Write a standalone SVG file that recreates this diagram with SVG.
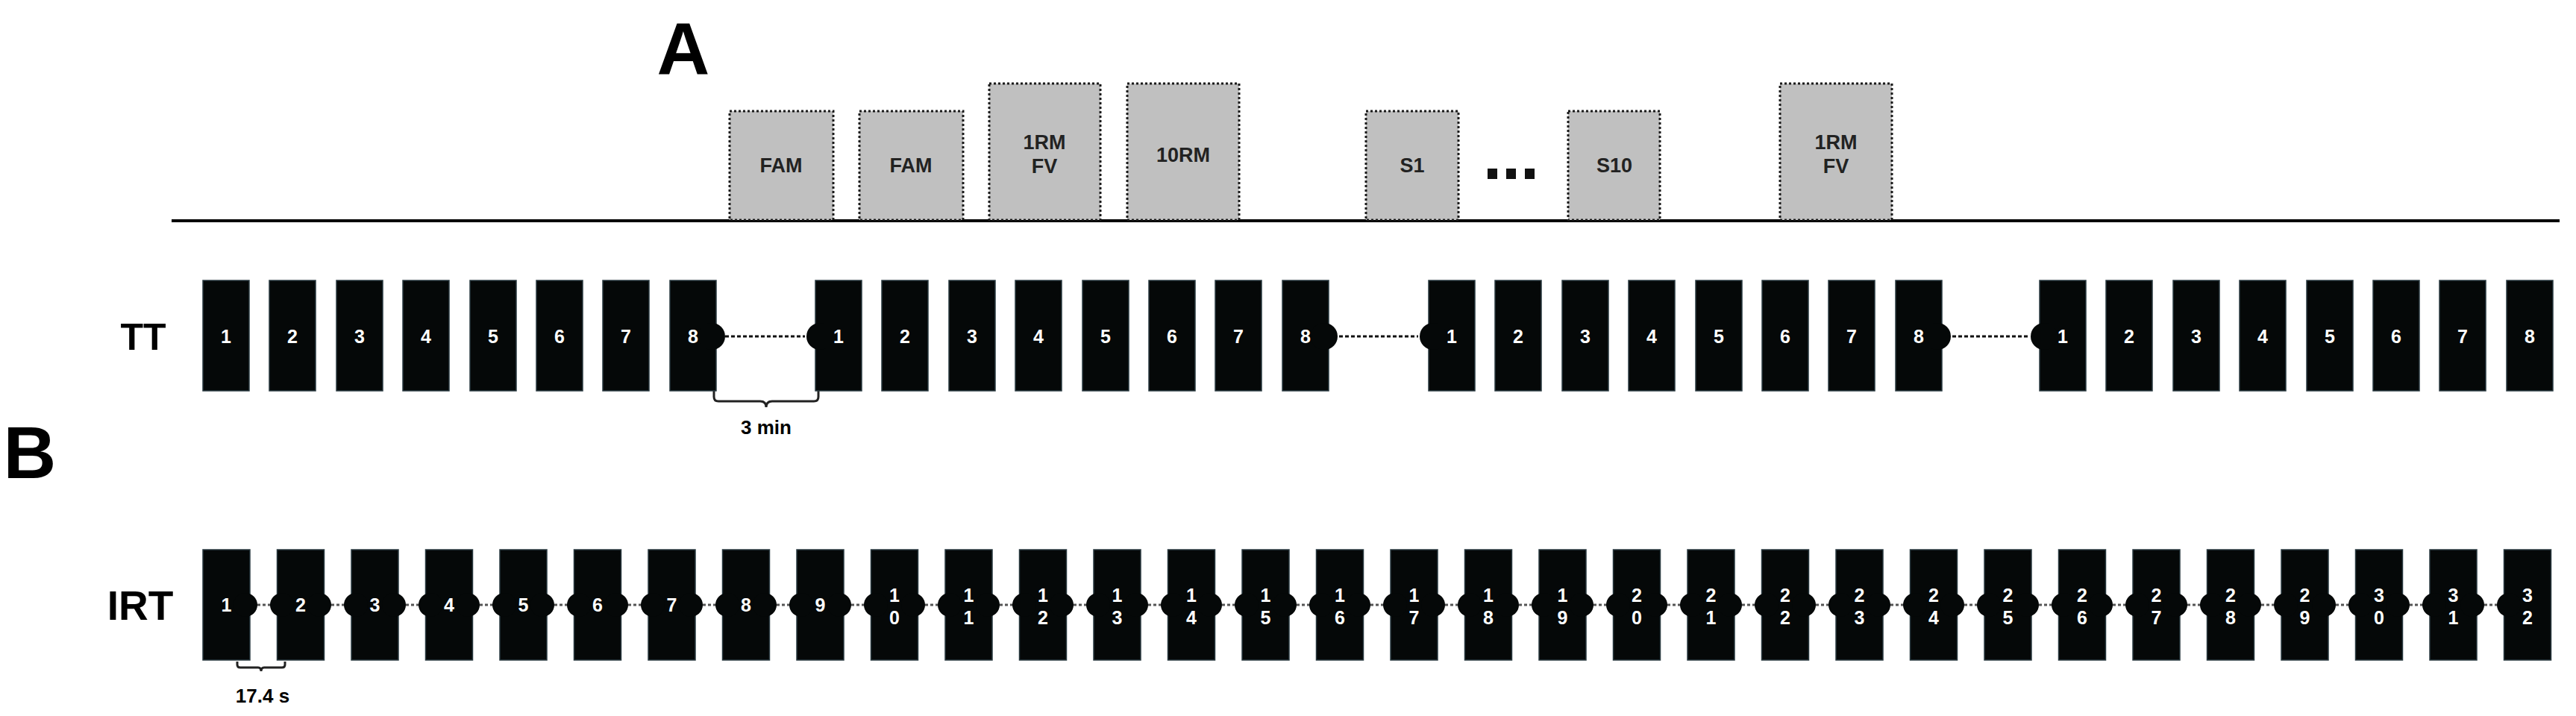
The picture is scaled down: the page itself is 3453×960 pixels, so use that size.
<svg xmlns="http://www.w3.org/2000/svg" width="3453" height="960" viewBox="0 0 3453 960">
<style>
.t{font-family:"Liberation Sans Narrow","Liberation Sans",Arial,sans-serif;font-weight:bold}
.blk{fill:#050808;stroke:#2a3a40;stroke-width:1.5}
.bump{fill:#050808}
.n{fill:#ffffff;font-size:25px;text-anchor:middle}
.box{fill:#c0c0c0;stroke:#1a1a1a;stroke-width:3;stroke-dasharray:3 3}
.bl{font-size:27px;fill:#222;text-anchor:middle}
.conn{stroke:#111;stroke-width:3;stroke-dasharray:5 3;fill:none}
.conn2{stroke:#555;stroke-width:3;stroke-dasharray:4 3;fill:none}
.brace{stroke:#222;stroke-width:3;fill:none}
</style>
<rect width="3453" height="960" fill="#fff"/>
<text class="t" x="916" y="99" font-size="98" text-anchor="middle">A</text>
<text class="t" x="40" y="641" font-size="98" text-anchor="middle">B</text>
<line x1="230" y1="296" x2="3431" y2="296" stroke="#000" stroke-width="4"/>
<g id="boxes">
<g id="fam1"><rect class="box" x="978" y="149" width="139" height="146"/><text class="t bl" x="1047" y="231">FAM</text></g>
<g id="fam2"><rect class="box" x="1152" y="149" width="139" height="146"/><text class="t bl" x="1221" y="231">FAM</text></g>
<g id="rm1"><rect class="box" x="1326" y="112" width="149" height="183"/><text class="t bl" x="1400" y="200">1RM</text><text class="t bl" x="1400" y="232">FV</text></g>
<g id="rm10"><rect class="box" x="1511" y="112" width="150" height="183"/><text class="t bl" x="1586" y="217">10RM</text></g>
<g id="s1"><rect class="box" x="1831" y="149" width="124" height="146"/><text class="t bl" x="1893" y="231">S1</text></g>
<g id="dots"><rect x="1994" y="226" width="13" height="14" fill="#111"/><rect x="2019" y="226" width="13" height="14" fill="#111"/><rect x="2044" y="226" width="13" height="14" fill="#111"/></g>
<g id="s10"><rect class="box" x="2102" y="149" width="123" height="146"/><text class="t bl" x="2164" y="231">S10</text></g>
<g id="rm1b"><rect class="box" x="2386" y="112" width="150" height="183"/><text class="t bl" x="2461" y="200">1RM</text><text class="t bl" x="2461" y="232">FV</text></g>
</g>
<text class="t" x="192" y="469" font-size="50" text-anchor="middle">TT</text>
<text class="t" x="188" y="831" font-size="55" text-anchor="middle">IRT</text>
<g id="connectors">
<line class="conn" x1="972" y1="451" x2="1079" y2="451"/>
<line class="conn" x1="1795" y1="451" x2="1901" y2="451"/>
<line class="conn" x1="2617" y1="451" x2="2720" y2="451"/>
<path class="brace" d="M957 524 v8 q0 6 6 6 h56 q8 0 8 8 q0 -8 8 -8 h56 q6 0 6 -6 v-8"/>
<path class="brace" d="M318 887 v4 q0 4 4 4 h24 q4 0 4 5 q0 -5 4 -5 h24 q4 0 4 -4 v-4"/>
<line class="conn2" x1="345" y1="811" x2="372" y2="811"/>
<line class="conn2" x1="444" y1="811" x2="471" y2="811"/>
<line class="conn2" x1="544" y1="811" x2="570" y2="811"/>
<line class="conn2" x1="643" y1="811" x2="670" y2="811"/>
<line class="conn2" x1="743" y1="811" x2="769" y2="811"/>
<line class="conn2" x1="842" y1="811" x2="869" y2="811"/>
<line class="conn2" x1="942" y1="811" x2="968" y2="811"/>
<line class="conn2" x1="1041" y1="811" x2="1068" y2="811"/>
<line class="conn2" x1="1141" y1="811" x2="1167" y2="811"/>
<line class="conn2" x1="1240" y1="811" x2="1267" y2="811"/>
<line class="conn2" x1="1340" y1="811" x2="1366" y2="811"/>
<line class="conn2" x1="1439" y1="811" x2="1466" y2="811"/>
<line class="conn2" x1="1539" y1="811" x2="1565" y2="811"/>
<line class="conn2" x1="1638" y1="811" x2="1665" y2="811"/>
<line class="conn2" x1="1738" y1="811" x2="1764" y2="811"/>
<line class="conn2" x1="1837" y1="811" x2="1864" y2="811"/>
<line class="conn2" x1="1937" y1="811" x2="1963" y2="811"/>
<line class="conn2" x1="2036" y1="811" x2="2063" y2="811"/>
<line class="conn2" x1="2136" y1="811" x2="2162" y2="811"/>
<line class="conn2" x1="2235" y1="811" x2="2262" y2="811"/>
<line class="conn2" x1="2335" y1="811" x2="2361" y2="811"/>
<line class="conn2" x1="2434" y1="811" x2="2461" y2="811"/>
<line class="conn2" x1="2534" y1="811" x2="2560" y2="811"/>
<line class="conn2" x1="2633" y1="811" x2="2660" y2="811"/>
<line class="conn2" x1="2733" y1="811" x2="2759" y2="811"/>
<line class="conn2" x1="2832" y1="811" x2="2859" y2="811"/>
<line class="conn2" x1="2932" y1="811" x2="2958" y2="811"/>
<line class="conn2" x1="3031" y1="811" x2="3058" y2="811"/>
<line class="conn2" x1="3131" y1="811" x2="3157" y2="811"/>
<line class="conn2" x1="3230" y1="811" x2="3257" y2="811"/>
<line class="conn2" x1="3330" y1="811" x2="3356" y2="811"/>
</g>
<text class="t" x="1027" y="582" font-size="26" text-anchor="middle">3 min</text>
<text class="t" x="352" y="942" font-size="26" text-anchor="middle">17.4 s</text>
<g id="tt">
<g id="tt1-1"><rect class="blk" x="272" y="376" width="62" height="148"/><text class="t n" x="303" y="460">1</text></g>
<g id="tt1-2"><rect class="blk" x="361" y="376" width="62" height="148"/><text class="t n" x="392" y="460">2</text></g>
<g id="tt1-3"><rect class="blk" x="451" y="376" width="62" height="148"/><text class="t n" x="482" y="460">3</text></g>
<g id="tt1-4"><rect class="blk" x="540" y="376" width="62" height="148"/><text class="t n" x="571" y="460">4</text></g>
<g id="tt1-5"><rect class="blk" x="630" y="376" width="62" height="148"/><text class="t n" x="661" y="460">5</text></g>
<g id="tt1-6"><rect class="blk" x="719" y="376" width="62" height="148"/><text class="t n" x="750" y="460">6</text></g>
<g id="tt1-7"><rect class="blk" x="808" y="376" width="62" height="148"/><text class="t n" x="839" y="460">7</text></g>
<g id="tt1-8"><rect class="blk" x="898" y="376" width="62" height="148"/><circle class="bump" cx="954" cy="451" r="18"/><text class="t n" x="929" y="460">8</text></g>
<g id="tt2-1"><rect class="blk" x="1093" y="376" width="62" height="148"/><circle class="bump" cx="1099" cy="451" r="18"/><text class="t n" x="1124" y="460">1</text></g>
<g id="tt2-2"><rect class="blk" x="1182" y="376" width="62" height="148"/><text class="t n" x="1213" y="460">2</text></g>
<g id="tt2-3"><rect class="blk" x="1272" y="376" width="62" height="148"/><text class="t n" x="1303" y="460">3</text></g>
<g id="tt2-4"><rect class="blk" x="1361" y="376" width="62" height="148"/><text class="t n" x="1392" y="460">4</text></g>
<g id="tt2-5"><rect class="blk" x="1451" y="376" width="62" height="148"/><text class="t n" x="1482" y="460">5</text></g>
<g id="tt2-6"><rect class="blk" x="1540" y="376" width="62" height="148"/><text class="t n" x="1571" y="460">6</text></g>
<g id="tt2-7"><rect class="blk" x="1629" y="376" width="62" height="148"/><text class="t n" x="1660" y="460">7</text></g>
<g id="tt2-8"><rect class="blk" x="1719" y="376" width="62" height="148"/><circle class="bump" cx="1775" cy="451" r="18"/><text class="t n" x="1750" y="460">8</text></g>
<g id="tt3-1"><rect class="blk" x="1915" y="376" width="62" height="148"/><circle class="bump" cx="1921" cy="451" r="18"/><text class="t n" x="1946" y="460">1</text></g>
<g id="tt3-2"><rect class="blk" x="2004" y="376" width="62" height="148"/><text class="t n" x="2035" y="460">2</text></g>
<g id="tt3-3"><rect class="blk" x="2094" y="376" width="62" height="148"/><text class="t n" x="2125" y="460">3</text></g>
<g id="tt3-4"><rect class="blk" x="2183" y="376" width="62" height="148"/><text class="t n" x="2214" y="460">4</text></g>
<g id="tt3-5"><rect class="blk" x="2273" y="376" width="62" height="148"/><text class="t n" x="2304" y="460">5</text></g>
<g id="tt3-6"><rect class="blk" x="2362" y="376" width="62" height="148"/><text class="t n" x="2393" y="460">6</text></g>
<g id="tt3-7"><rect class="blk" x="2451" y="376" width="62" height="148"/><text class="t n" x="2482" y="460">7</text></g>
<g id="tt3-8"><rect class="blk" x="2541" y="376" width="62" height="148"/><circle class="bump" cx="2597" cy="451" r="18"/><text class="t n" x="2572" y="460">8</text></g>
<g id="tt4-1"><rect class="blk" x="2734" y="376" width="62" height="148"/><circle class="bump" cx="2740" cy="451" r="18"/><text class="t n" x="2765" y="460">1</text></g>
<g id="tt4-2"><rect class="blk" x="2823" y="376" width="62" height="148"/><text class="t n" x="2854" y="460">2</text></g>
<g id="tt4-3"><rect class="blk" x="2913" y="376" width="62" height="148"/><text class="t n" x="2944" y="460">3</text></g>
<g id="tt4-4"><rect class="blk" x="3002" y="376" width="62" height="148"/><text class="t n" x="3033" y="460">4</text></g>
<g id="tt4-5"><rect class="blk" x="3092" y="376" width="62" height="148"/><text class="t n" x="3123" y="460">5</text></g>
<g id="tt4-6"><rect class="blk" x="3181" y="376" width="62" height="148"/><text class="t n" x="3212" y="460">6</text></g>
<g id="tt4-7"><rect class="blk" x="3270" y="376" width="62" height="148"/><text class="t n" x="3301" y="460">7</text></g>
<g id="tt4-8"><rect class="blk" x="3360" y="376" width="62" height="148"/><text class="t n" x="3391" y="460">8</text></g>
</g>
<g id="irt">
<g id="irt1"><rect class="blk" x="272" y="737" width="63" height="148"/><circle class="bump" cx="329" cy="811" r="16"/><text class="t n" x="303.5" y="820">1</text></g>
<g id="irt2"><rect class="blk" x="371.5" y="737" width="63" height="148"/><circle class="bump" cx="378" cy="811" r="16"/><circle class="bump" cx="428" cy="811" r="16"/><text class="t n" x="403" y="820">2</text></g>
<g id="irt3"><rect class="blk" x="471" y="737" width="63" height="148"/><circle class="bump" cx="477" cy="811" r="16"/><circle class="bump" cx="528" cy="811" r="16"/><text class="t n" x="502.5" y="820">3</text></g>
<g id="irt4"><rect class="blk" x="570.5" y="737" width="63" height="148"/><circle class="bump" cx="577" cy="811" r="16"/><circle class="bump" cx="627" cy="811" r="16"/><text class="t n" x="602" y="820">4</text></g>
<g id="irt5"><rect class="blk" x="670" y="737" width="63" height="148"/><circle class="bump" cx="676" cy="811" r="16"/><circle class="bump" cx="727" cy="811" r="16"/><text class="t n" x="701.5" y="820">5</text></g>
<g id="irt6"><rect class="blk" x="769.5" y="737" width="63" height="148"/><circle class="bump" cx="776" cy="811" r="16"/><circle class="bump" cx="826" cy="811" r="16"/><text class="t n" x="801" y="820">6</text></g>
<g id="irt7"><rect class="blk" x="869" y="737" width="63" height="148"/><circle class="bump" cx="875" cy="811" r="16"/><circle class="bump" cx="926" cy="811" r="16"/><text class="t n" x="900.5" y="820">7</text></g>
<g id="irt8"><rect class="blk" x="968.5" y="737" width="63" height="148"/><circle class="bump" cx="975" cy="811" r="16"/><circle class="bump" cx="1025" cy="811" r="16"/><text class="t n" x="1000" y="820">8</text></g>
<g id="irt9"><rect class="blk" x="1068" y="737" width="63" height="148"/><circle class="bump" cx="1074" cy="811" r="16"/><circle class="bump" cx="1125" cy="811" r="16"/><text class="t n" x="1099.5" y="820">9</text></g>
<g id="irt10"><rect class="blk" x="1167.5" y="737" width="63" height="148"/><circle class="bump" cx="1174" cy="811" r="16"/><circle class="bump" cx="1224" cy="811" r="16"/><text class="t n" x="1199" y="807">1</text><text class="t n" x="1199" y="837">0</text></g>
<g id="irt11"><rect class="blk" x="1267" y="737" width="63" height="148"/><circle class="bump" cx="1273" cy="811" r="16"/><circle class="bump" cx="1324" cy="811" r="16"/><text class="t n" x="1298.5" y="807">1</text><text class="t n" x="1298.5" y="837">1</text></g>
<g id="irt12"><rect class="blk" x="1366.5" y="737" width="63" height="148"/><circle class="bump" cx="1373" cy="811" r="16"/><circle class="bump" cx="1423" cy="811" r="16"/><text class="t n" x="1398" y="807">1</text><text class="t n" x="1398" y="837">2</text></g>
<g id="irt13"><rect class="blk" x="1466" y="737" width="63" height="148"/><circle class="bump" cx="1472" cy="811" r="16"/><circle class="bump" cx="1523" cy="811" r="16"/><text class="t n" x="1497.5" y="807">1</text><text class="t n" x="1497.5" y="837">3</text></g>
<g id="irt14"><rect class="blk" x="1565.5" y="737" width="63" height="148"/><circle class="bump" cx="1572" cy="811" r="16"/><circle class="bump" cx="1622" cy="811" r="16"/><text class="t n" x="1597" y="807">1</text><text class="t n" x="1597" y="837">4</text></g>
<g id="irt15"><rect class="blk" x="1665" y="737" width="63" height="148"/><circle class="bump" cx="1671" cy="811" r="16"/><circle class="bump" cx="1722" cy="811" r="16"/><text class="t n" x="1696.5" y="807">1</text><text class="t n" x="1696.5" y="837">5</text></g>
<g id="irt16"><rect class="blk" x="1764.5" y="737" width="63" height="148"/><circle class="bump" cx="1771" cy="811" r="16"/><circle class="bump" cx="1821" cy="811" r="16"/><text class="t n" x="1796" y="807">1</text><text class="t n" x="1796" y="837">6</text></g>
<g id="irt17"><rect class="blk" x="1864" y="737" width="63" height="148"/><circle class="bump" cx="1870" cy="811" r="16"/><circle class="bump" cx="1921" cy="811" r="16"/><text class="t n" x="1895.5" y="807">1</text><text class="t n" x="1895.5" y="837">7</text></g>
<g id="irt18"><rect class="blk" x="1963.5" y="737" width="63" height="148"/><circle class="bump" cx="1970" cy="811" r="16"/><circle class="bump" cx="2020" cy="811" r="16"/><text class="t n" x="1995" y="807">1</text><text class="t n" x="1995" y="837">8</text></g>
<g id="irt19"><rect class="blk" x="2063" y="737" width="63" height="148"/><circle class="bump" cx="2069" cy="811" r="16"/><circle class="bump" cx="2120" cy="811" r="16"/><text class="t n" x="2094.5" y="807">1</text><text class="t n" x="2094.5" y="837">9</text></g>
<g id="irt20"><rect class="blk" x="2162.5" y="737" width="63" height="148"/><circle class="bump" cx="2169" cy="811" r="16"/><circle class="bump" cx="2219" cy="811" r="16"/><text class="t n" x="2194" y="807">2</text><text class="t n" x="2194" y="837">0</text></g>
<g id="irt21"><rect class="blk" x="2262" y="737" width="63" height="148"/><circle class="bump" cx="2268" cy="811" r="16"/><circle class="bump" cx="2319" cy="811" r="16"/><text class="t n" x="2293.5" y="807">2</text><text class="t n" x="2293.5" y="837">1</text></g>
<g id="irt22"><rect class="blk" x="2361.5" y="737" width="63" height="148"/><circle class="bump" cx="2368" cy="811" r="16"/><circle class="bump" cx="2418" cy="811" r="16"/><text class="t n" x="2393" y="807">2</text><text class="t n" x="2393" y="837">2</text></g>
<g id="irt23"><rect class="blk" x="2461" y="737" width="63" height="148"/><circle class="bump" cx="2467" cy="811" r="16"/><circle class="bump" cx="2518" cy="811" r="16"/><text class="t n" x="2492.5" y="807">2</text><text class="t n" x="2492.5" y="837">3</text></g>
<g id="irt24"><rect class="blk" x="2560.5" y="737" width="63" height="148"/><circle class="bump" cx="2567" cy="811" r="16"/><circle class="bump" cx="2617" cy="811" r="16"/><text class="t n" x="2592" y="807">2</text><text class="t n" x="2592" y="837">4</text></g>
<g id="irt25"><rect class="blk" x="2660" y="737" width="63" height="148"/><circle class="bump" cx="2666" cy="811" r="16"/><circle class="bump" cx="2717" cy="811" r="16"/><text class="t n" x="2691.5" y="807">2</text><text class="t n" x="2691.5" y="837">5</text></g>
<g id="irt26"><rect class="blk" x="2759.5" y="737" width="63" height="148"/><circle class="bump" cx="2766" cy="811" r="16"/><circle class="bump" cx="2816" cy="811" r="16"/><text class="t n" x="2791" y="807">2</text><text class="t n" x="2791" y="837">6</text></g>
<g id="irt27"><rect class="blk" x="2859" y="737" width="63" height="148"/><circle class="bump" cx="2865" cy="811" r="16"/><circle class="bump" cx="2916" cy="811" r="16"/><text class="t n" x="2890.5" y="807">2</text><text class="t n" x="2890.5" y="837">7</text></g>
<g id="irt28"><rect class="blk" x="2958.5" y="737" width="63" height="148"/><circle class="bump" cx="2965" cy="811" r="16"/><circle class="bump" cx="3015" cy="811" r="16"/><text class="t n" x="2990" y="807">2</text><text class="t n" x="2990" y="837">8</text></g>
<g id="irt29"><rect class="blk" x="3058" y="737" width="63" height="148"/><circle class="bump" cx="3064" cy="811" r="16"/><circle class="bump" cx="3115" cy="811" r="16"/><text class="t n" x="3089.5" y="807">2</text><text class="t n" x="3089.5" y="837">9</text></g>
<g id="irt30"><rect class="blk" x="3157.5" y="737" width="63" height="148"/><circle class="bump" cx="3164" cy="811" r="16"/><circle class="bump" cx="3214" cy="811" r="16"/><text class="t n" x="3189" y="807">3</text><text class="t n" x="3189" y="837">0</text></g>
<g id="irt31"><rect class="blk" x="3257" y="737" width="63" height="148"/><circle class="bump" cx="3263" cy="811" r="16"/><circle class="bump" cx="3314" cy="811" r="16"/><text class="t n" x="3288.5" y="807">3</text><text class="t n" x="3288.5" y="837">1</text></g>
<g id="irt32"><rect class="blk" x="3356.5" y="737" width="63" height="148"/><circle class="bump" cx="3363" cy="811" r="16"/><text class="t n" x="3388" y="807">3</text><text class="t n" x="3388" y="837">2</text></g>
</g>
</svg>
